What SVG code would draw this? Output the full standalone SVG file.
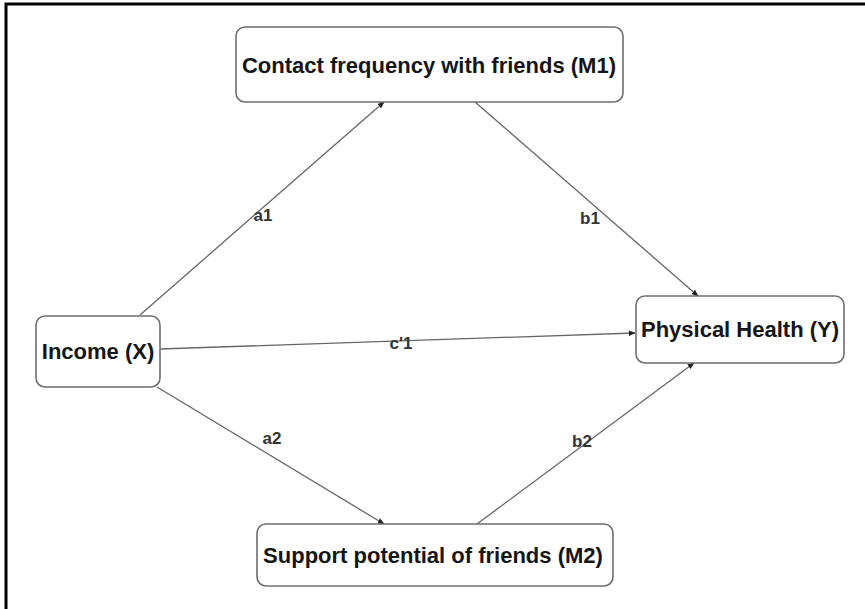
<svg xmlns="http://www.w3.org/2000/svg" width="865" height="609" viewBox="0 0 865 609">
<style>
.node rect{fill:#fff;stroke:#6e6e6e;stroke-width:1.6}
.node text{font-family:"Liberation Sans",Arial,sans-serif;font-weight:bold;font-size:22px;fill:#151515;text-anchor:middle}
.edge{stroke:#666;stroke-width:1.3;fill:none;marker-end:url(#arr)}
.lbl{font-family:"Liberation Sans",Arial,sans-serif;font-weight:bold;font-size:17px;fill:#333;text-anchor:middle}
</style>
<defs>
<marker id="arr" viewBox="0 0 10 10" refX="9" refY="5" markerWidth="7" markerHeight="7" markerUnits="userSpaceOnUse" orient="auto">
<path d="M0,1 L10,5 L0,9 z" fill="#222"/>
</marker>
</defs>
<rect width="865" height="609" fill="#fff"/>
<path d="M6,609 V4 H865" fill="none" stroke="#000" stroke-width="3"/>
<g id="connectors">
<line class="edge" x1="140" y1="315" x2="384" y2="102"/>
<line class="edge" x1="475" y1="102" x2="698" y2="296"/>
<line class="edge" x1="160" y1="349" x2="635" y2="333"/>
<line class="edge" x1="157" y1="387" x2="384" y2="524"/>
<line class="edge" x1="477" y1="524" x2="694" y2="363"/>
<text class="lbl" x="263" y="221">a1</text>
<text class="lbl" x="590" y="224">b1</text>
<text class="lbl" x="401" y="349">c'1</text>
<text class="lbl" x="272" y="444">a2</text>
<text class="lbl" x="582" y="447">b2</text>
</g>
<g id="m1" class="node">
<rect x="236" y="27" width="387" height="75" rx="9"/>
<text x="429" y="73">Contact frequency with friends (M1)</text>
</g>
<g id="x" class="node">
<rect x="36" y="316" width="124" height="71" rx="9"/>
<text x="98" y="359">Income (X)</text>
</g>
<g id="y" class="node">
<rect x="636" y="296" width="208" height="67" rx="9"/>
<text x="740" y="337">Physical Health (Y)</text>
</g>
<g id="m2" class="node">
<rect x="257" y="524" width="356" height="62" rx="9"/>
<text x="433" y="563">Support potential of friends (M2)</text>
</g>
</svg>
